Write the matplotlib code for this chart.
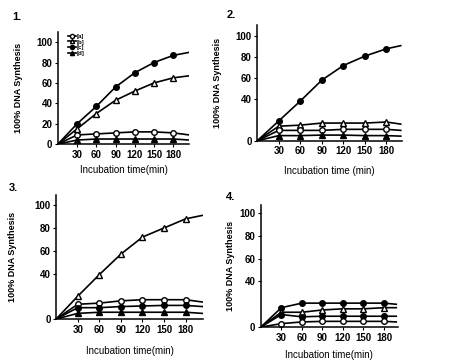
import matplotlib.pyplot as plt
import numpy as np

plt.rcParams['font.family'] = ['Liberation Sans', 'DejaVu Sans']
plt.rcParams['font.weight'] = 'bold'

# time points (min); first = origin, last = end of curve (no marker)
t1 = [0, 30, 60, 90, 120, 150, 180, 205]
t2 = [0, 30, 60, 90, 120, 150, 180, 200]
t3 = [0, 30, 60, 90, 120, 150, 180, 203]
t4 = [0, 30, 60, 90, 120, 150, 180, 198]

# panel 1
p1_open_circle = [0, 9, 10, 11, 12, 12, 11, 9]
p1_open_tri = [0, 15, 30, 43, 52, 60, 65, 67]
p1_fill_circle = [0, 20, 37, 56, 70, 80, 87, 90]
p1_fill_tri = [0, 4, 5, 5, 5, 5, 5, 4]

# panel 2
p2_fill_circle = [0, 19, 38, 58, 72, 81, 88, 91]
p2_open_tri = [0, 14, 15, 17, 17, 17, 18, 16]
p2_open_circle = [0, 10, 10, 10, 11, 11, 11, 10]
p2_fill_tri = [0, 5, 5, 5.5, 5.5, 5, 5, 4.5]

# panel 3
p3_open_tri = [0, 20, 39, 57, 72, 80, 88, 91]
p3_open_circle = [0, 13, 14, 16, 17, 17, 17, 15]
p3_fill_circle = [0, 10, 10, 11, 11.5, 12, 12, 11]
p3_fill_tri = [0, 5, 6, 6, 6, 6, 6, 5]

# panel 4
p4_fill_circle = [0, 17, 21, 21, 21, 21, 21, 20]
p4_open_tri = [0, 13, 13, 15, 16, 16, 17, 17]
p4_fill_circle2 = [0, 11, 9, 9.5, 9.5, 9.5, 9.5, 9.5]
p4_open_circle = [0, 3, 4.5, 5, 5, 5, 5, 4.5]

legend_labels = ['[a]', '[b]', '[c]', '[d]']

W, H = 456, 363
fig = plt.figure(figsize=(W / 100, H / 100), dpi=100)

styles = {
    'oc': dict(marker='o', mfc='white', mec='black'),
    'ot': dict(marker='^', mfc='white', mec='black'),
    'fc': dict(marker='o', mfc='black', mec='black'),
    'ft': dict(marker='^', mfc='black', mec='black'),
}


def draw(ax, t, series, ylim, xmax, yticks, xlabel, xpad, tag, tag_xy, ylab_x):
    for y, st, lab in series:
        ax.plot(t, y, color='black', lw=1.2, ms=4, mew=1.0,
                markevery=list(range(1, 7)), label=lab, **styles[st])
    ax.set_xlim(0, xmax)
    ax.set_ylim(0, ylim)
    ax.set_xticks([30, 60, 90, 120, 150, 180])
    ax.set_yticks(yticks)
    ax.spines['top'].set_visible(False)
    ax.spines['right'].set_visible(False)
    for s in ('left', 'bottom'):
        ax.spines[s].set_linewidth(1.1)
    ax.tick_params(labelsize=7, length=2, width=0.8, pad=2)
    ax.set_xlabel(xlabel, fontsize=7, labelpad=xpad)
    pos = ax.get_position()
    fig.text(ylab_x / W, (pos.y0 + pos.y1) / 2, '100% DNA Synthesis',
             rotation=90, ha='center', va='center', fontsize=6.5)
    fig.text(tag_xy[0] / W, 1 - tag_xy[1] / H, tag, ha='center', va='center',
             fontsize=8, fontweight='bold')


ax1 = fig.add_axes([0.127, 0.603, 0.288, 0.309])
draw(ax1, t1, [(p1_open_circle, 'oc', legend_labels[0]),
               (p1_open_tri, 'ot', legend_labels[1]),
               (p1_fill_circle, 'fc', legend_labels[2]),
               (p1_fill_tri, 'ft', legend_labels[3])],
     110, 205, [0, 20, 40, 60, 80, 100], 'Incubation time(min)', 4,
     '1.', (17, 17), 19)
ax1.legend(loc='upper left', bbox_to_anchor=(0.05, 1.02), fontsize=4.5, frameon=False,
           handlelength=1.2, handletextpad=0.2, labelspacing=0.05, borderpad=0.1)
for h in ax1.get_legend().legend_handles:
    h.set_markersize(3)

ax2 = fig.add_axes([0.564, 0.612, 0.318, 0.319])
draw(ax2, t2, [(p2_fill_circle, 'fc', None),
               (p2_open_tri, 'ot', None),
               (p2_open_circle, 'oc', None),
               (p2_fill_tri, 'ft', None)],
     110.7, 202, [0, 40, 60, 80, 100], 'Incubation time (min)', 7,
     '2.', (231, 15), 218)

ax3 = fig.add_axes([0.123, 0.121, 0.322, 0.342])
draw(ax3, t3, [(p3_open_tri, 'ot', None),
               (p3_open_circle, 'oc', None),
               (p3_fill_circle, 'fc', None),
               (p3_fill_tri, 'ft', None)],
     109, 204, [0, 40, 60, 80, 100], 'Incubation time(min)', 8,
     '3.', (13, 188), 13)

ax4 = fig.add_axes([0.572, 0.099, 0.30, 0.336])
draw(ax4, t4, [(p4_fill_circle, 'fc', None),
               (p4_open_tri, 'ot', None),
               (p4_fill_circle2, 'fc', None),
               (p4_open_circle, 'oc', None)],
     107, 200, [0, 40, 60, 80, 100], 'Incubation time(min)', 5,
     '4.', (231, 197), 231)

fig.savefig('out.png', dpi=100)
